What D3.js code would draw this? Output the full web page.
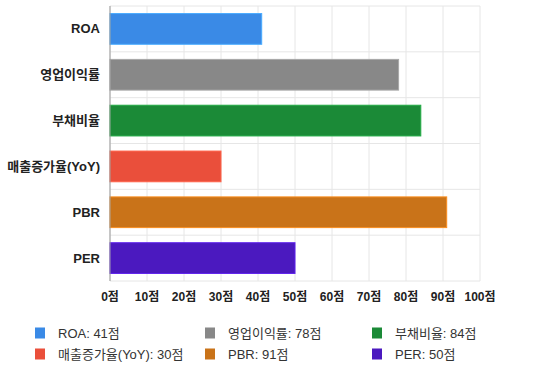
<!DOCTYPE html>
<html>
<head>
<meta charset="utf-8">
<script src="https://cdn.jsdelivr.net/npm/d3@7"></script>
<style>
  body { margin: 0; background: #fff; }
  svg { display: block; font-family: "Liberation Sans", Arial, "Noto Sans CJK KR", sans-serif; }
</style>
</head>
<body>
<div id="chart"></div>
<script>
var categories = ["ROA", "영업이익률", "부채비율", "매출증가율(YoY)", "PBR", "PER"];
var scores = [41, 78, 84, 30, 91, 50];
var colors = ["#3a8ae6", "#888888", "#1b8a37", "#ea4f3b", "#c97319", "#4b19bf"];
var tickValues = [0, 10, 20, 30, 40, 50, 60, 70, 80, 90, 100];

var width = 540, height = 373;
var margin = { top: 6, right: 60, bottom: 92, left: 110 };

var svg = d3.select("#chart").append("svg")
    .attr("width", width)
    .attr("height", height);

var x = d3.scaleLinear()
    .domain([0, 100])
    .range([margin.left, width - margin.right]);

var y = d3.scaleBand()
    .domain(categories)
    .range([margin.top, height - margin.bottom])
    .paddingInner(0.33)
    .paddingOuter(0.165);

var data = categories.map(function(c, i) {
    return { name: c, value: scores[i], color: colors[i] };
});

// grid - vertical
svg.append("g")
    .selectAll("line")
    .data(tickValues)
    .join("line")
    .attr("x1", d => x(d))
    .attr("x2", d => x(d))
    .attr("y1", margin.top)
    .attr("y2", height - margin.bottom)
    .attr("stroke", "#e6e6e6")
    .attr("stroke-width", 1);

// grid - horizontal (band boundaries)
var rowH = (height - margin.bottom - margin.top) / categories.length;
svg.append("g")
    .selectAll("line")
    .data(d3.range(categories.length + 1))
    .join("line")
    .attr("x1", margin.left)
    .attr("x2", width - margin.right)
    .attr("y1", d => margin.top + d * rowH)
    .attr("y2", d => margin.top + d * rowH)
    .attr("stroke", "#e6e6e6")
    .attr("stroke-width", 1);

// bars
svg.append("g")
    .selectAll("rect")
    .data(data)
    .join("rect")
    .attr("x", x(0))
    .attr("y", d => y(d.name))
    .attr("width", d => x(d.value) - x(0))
    .attr("height", y.bandwidth())
    .attr("fill", d => d.color)
    .attr("stroke", d => d3.color(d.color).brighter(0.6))
    .attr("stroke-width", 1);

// left axis line
svg.append("line")
    .attr("x1", x(0)).attr("x2", x(0))
    .attr("y1", margin.top).attr("y2", height - margin.bottom)
    .attr("stroke", "#999");

// y labels
svg.append("g")
    .selectAll("text")
    .data(categories)
    .join("text")
    .attr("x", x(0) - 10)
    .attr("y", d => y(d) + y.bandwidth() / 2)
    .attr("dy", "0.35em")
    .attr("text-anchor", "end")
    .attr("font-size", 13)
    .attr("font-weight", "bold")
    .attr("fill", "#222")
    .text(d => d);

// x tick labels
svg.append("g")
    .selectAll("text")
    .data(tickValues)
    .join("text")
    .attr("x", d => x(d))
    .attr("y", height - margin.bottom + 20)
    .attr("text-anchor", "middle")
    .attr("font-size", 12)
    .attr("font-weight", "bold")
    .attr("fill", "#222")
    .text(d => d + "점");

// legend
var legendX = [35, 205, 372];
var legendY = [333, 354];
var legend = svg.append("g")
    .selectAll("g")
    .data(data)
    .join("g")
    .attr("transform", (d, i) => "translate(" + legendX[i % 3] + "," + legendY[Math.floor(i / 3)] + ")");

legend.append("rect")
    .attr("x", 0)
    .attr("y", -5.5)
    .attr("width", 10)
    .attr("height", 11)
    .attr("fill", d => d.color);

legend.append("text")
    .attr("x", 23)
    .attr("y", 0)
    .attr("dy", "0.35em")
    .attr("font-size", 13)
    .attr("fill", "#333")
    .text(d => d.name + ": " + d.value + "점");
</script>
</body>
</html>
